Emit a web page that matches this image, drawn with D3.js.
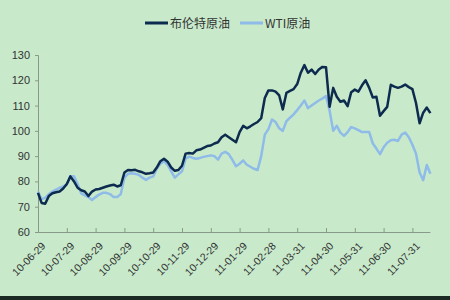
<!DOCTYPE html>
<html>
<head>
<meta charset="utf-8">
<script src="https://cdn.jsdelivr.net/npm/d3@7"></script>
<style>
  body { margin: 0; }
  svg { display: block; background: #c8eacb; }
  text { font-family: "Liberation Sans", Arial, sans-serif; }
</style>
</head>
<body>
<div id="chart"></div>
<script>
// 8 samples per month, ticks every 8 samples
var tickLabels = ["10-06-29", "10-07-29", "10-08-29", "10-09-29", "10-10-29", "10-11-29", "10-12-29",
  "11-01-29", "11-02-28", "11-03-31", "11-04-30", "11-05-31", "11-06-30", "11-07-31"];
var seriesNames = ["布伦特原油", "WTI原油"];
var brent = [75.5, 71.5, 71.2, 74.2, 75.3, 75.7, 76, 77.2, 79, 82, 80, 77.5, 76.5, 76, 74.2, 76,
  76.8, 77, 77.5, 78, 78.4, 78.7, 78, 78.5, 83.5, 84.5, 84.4, 84.6, 84, 83.6, 83, 83.2,
  83.5, 85.5, 88, 89, 87.8, 85.5, 84.2, 84.5, 86.2, 91, 91.2, 91, 92.3, 92.6, 93.3, 94,
  94.2, 95, 95.5, 97.5, 98.5, 97.5, 96.5, 95.5, 99.5, 102, 101, 101.8, 102.7, 103.5, 105, 113,
  116, 116, 115.5, 114, 108.5, 115, 115.8, 116.5, 118.5, 123, 126, 123, 124.2, 122.5, 124.3, 125.3,
  125.2, 109.5, 117, 113.5, 111.5, 112, 109.8, 115.3, 116.3, 115.5, 118, 120, 117, 113.2, 113.5, 106,
  107.8, 109.5, 118.2, 117.5, 117, 117.5, 118.3, 117.3, 116.5, 111, 103, 107.2, 109.2, 107];
var wti = [76, 73, 73.5, 75, 76, 76.8, 77.5, 78, 78.7, 82, 82, 79, 75.3, 74.5, 73.8, 72.7,
  73.8, 74.8, 75.5, 75.5, 75, 73.8, 73.8, 75, 81.5, 83, 83.2, 83, 82.6, 81.5, 80.6, 81.5,
  82, 85, 87, 88, 86.5, 84, 81.5, 82.8, 84, 89, 89.8, 89.3, 89, 89.3, 89.7, 90,
  90.3, 90, 88.6, 91, 91.7, 90.8, 88.5, 86, 87, 88.3, 86.6, 85.8, 85, 84.5, 90, 98.5,
  100.7, 104.5, 103.5, 101, 100, 103.8, 105.2, 106.5, 108.2, 110, 112, 109, 110, 111, 112, 112.8,
  113.8, 108, 100, 102, 99.3, 98, 99.5, 101.5, 101, 100.3, 99.5, 99.5, 99.5, 95, 93, 90.8,
  93.5, 95.3, 96.3, 96.5, 96, 98.5, 99.3, 97.5, 94.5, 91, 83.5, 80.5, 86.5, 83];
var colors = ["#0d2b4e", "#8fbbe9"];

var width = 450, height = 300;
var svg = d3.select("#chart").append("svg")
  .attr("width", width)
  .attr("height", height);

var x = d3.scaleLinear().domain([0, 109]).range([38, 430.4]);
var y = d3.scaleLinear().domain([60, 130]).range([232, 55]);

// y axis
var yAxis = d3.axisLeft(y).tickValues(d3.range(60, 131, 10)).tickSize(3).tickPadding(5);
svg.append("g")
  .attr("transform", "translate(38,0)")
  .call(yAxis)
  .call(function(g) {
    g.selectAll("path, line").attr("stroke", "#8a9a8a");
    g.selectAll("text").attr("font-size", "11px").attr("fill", "#333");
  });

// x axis
var tickIdx = tickLabels.map(function(d, i) { return i * 8; });
var xAxis = d3.axisBottom(x).tickValues(tickIdx).tickSize(-4).tickSizeOuter(0)
  .tickFormat(function(d, i) { return tickLabels[i]; });
svg.append("g")
  .attr("transform", "translate(0,232)")
  .call(xAxis)
  .call(function(g) {
    g.select(".domain").attr("d", "M38,0.5H430.4");
    g.selectAll("path, line").attr("stroke", "#8a9a8a");
    g.selectAll("text")
      .attr("font-size", "10.5px")
      .attr("fill", "#333")
      .attr("text-anchor", "end")
      .attr("dy", "0.35em")
      .attr("transform", "translate(3,10) rotate(-45)");
  });

var line = d3.line()
  .x(function(d, i) { return x(i); })
  .y(function(d) { return y(d); });

[wti, brent].forEach(function(s, k) {
  svg.append("path")
    .attr("d", line(s))
    .attr("fill", "none")
    .attr("stroke", k == 0 ? colors[1] : colors[0])
    .attr("stroke-width", 2.5)
    .attr("stroke-linejoin", "round");
});

// legend
var legend = [{x: 145, name: seriesNames[0], c: colors[0]}, {x: 240, name: seriesNames[1], c: colors[1]}];
legend.forEach(function(d) {
  svg.append("line")
    .attr("x1", d.x).attr("x2", d.x + 23)
    .attr("y1", 23).attr("y2", 23)
    .attr("stroke", d.c).attr("stroke-width", 3);
  svg.append("text")
    .attr("x", d.x + 25).attr("y", 27.5)
    .attr("font-size", "12px")
    .attr("fill", "#333")
    .style("font-family", "'Noto Sans CJK SC', sans-serif")
    .text(d.name);
});

// dark bottom band
svg.append("rect")
  .attr("x", 0).attr("y", 296)
  .attr("width", width).attr("height", 4)
  .attr("fill", "#1a2a22");
</script>
</body>
</html>
